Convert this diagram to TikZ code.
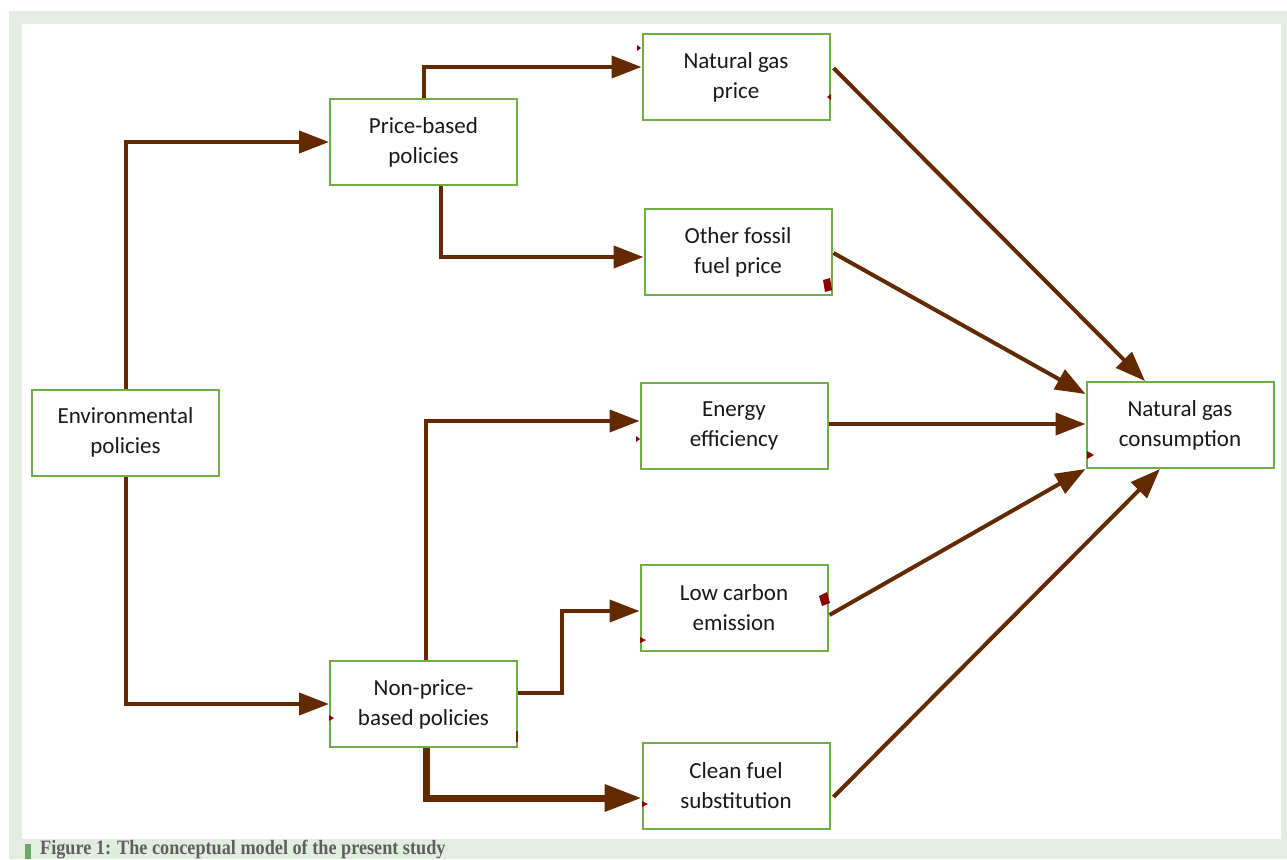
\documentclass[tikz,border=0pt]{standalone}
\usepackage{fontspec}
\setmainfont{Carlito}
\newfontfamily\capfont{Liberation Serif}
\usetikzlibrary{arrows.meta,calc}

\definecolor{framegreen}{HTML}{E2ECE0}
\definecolor{boxgreen}{HTML}{70AD47}
\definecolor{arrowbrown}{HTML}{632A00}
\definecolor{markred}{HTML}{8B0000}
\definecolor{capgray}{HTML}{5E5E5E}
\definecolor{bargreen}{HTML}{6CA865}

\tikzset{
  factor/.style={draw=boxgreen, line width=2pt, fill=white, minimum width=187pt,
    minimum height=86pt, align=center, inner sep=0pt, text=black!90,
    font=\fontsize{23}{30}\selectfont},
  link/.style={draw=arrowbrown, line width=4pt, -{Triangle[length=30pt,width=22pt]}},
  biglink/.style={draw=arrowbrown, line width=7pt, -{Triangle[length=37pt,width=26pt]}},
  tick/.style={fill=markred}
}

\begin{document}
\begin{tikzpicture}[x=1pt, y=-1pt]
    \useasboundingbox (0,0) rectangle (1287,859);
    % frame and caption band
    \fill[framegreen] (9,11) rectangle (1287,859);
    \fill[white] (22,24) rectangle (1281,839);
    \fill[bargreen] (25,844) rectangle (31,859);
    \node[anchor=base west, text=capgray, inner sep=0pt,
      font=\capfont\bfseries\fontsize{18.2}{20}\selectfont] (caption) at (40,854)
      {\scalebox{1}[1.12]{Figure 1: The conceptual model of the present study}};

    % factors
    \node[factor] (env) at (125.5,432.5) {Environmental\\policies};
    \node[factor] (pb)  at (423.5,142)   {Price-based\\policies};
    \node[factor] (npb) at (423.5,704)   {Non-price-\\based policies};
    \node[factor] (ngp) at (736,77)      {Natural gas\\price};
    \node[factor] (ofp) at (738,252)     {Other fossil\\fuel price};
    \node[factor] (ee)  at (734,426)     {Energy\\efficiency};
    \node[factor] (lce) at (734,608)     {Low carbon\\emission};
    \node[factor] (cfs) at (736,786)     {Clean fuel\\substitution};
    \node[factor] (ngc) at (1180,425)    {Natural gas\\consumption};

    % policy branches
    \draw[link] (env.north) |- (pb.west);
    \draw[link] (env.south) |- (npb.west);
    \draw[link] (pb.north) |- ($(ngp.west)+(0,-10)$);
    \draw[link] ($(pb.south)+(17.5,0)$) |- ($(ofp.west)+(0,5)$);
    \draw[link] ($(npb.north)+(2.5,0)$) |- ($(ee.west)+(0,-5)$);
    \draw[link] ($(npb.east)+(0,-11)$) -- (562,693) |- ($(lce.west)+(0,3)$);
    \draw[biglink] ($(npb.south)+(2.5,0)$) |- ($(cfs.west)+(0,12)$);

    % effects on consumption
    \draw[link] ($(ngp.east)+(3,-9)$) -- ($(ngc.north)+(-35,0)$);
    \draw[link] ($(ofp.east)+(1,1)$) -- ($(ngc.west)+(0,-31)$);
    \draw[link] ($(ee.east)+(0,-2)$) -- ($(ngc.west)+(0,-1)$);
    \draw[link] ($(lce.east)+(1,7)$) -- (ngc.south west);
    \draw[link] ($(cfs.east)+(3,11)$) -- ($(ngc.south)+(-20,0)$);

    % stray marks
    \fill[tick] (637,45) -- (641,48) -- (637,51) -- cycle;
    \fill[tick] (831,94) -- (827,97) -- (831,100) -- cycle;
    \fill[tick] (823,280) -- (830,278) -- (832,290) -- (825,292) -- cycle;
    \fill[tick] (636,436) -- (640,439) -- (636,442) -- cycle;
    \fill[tick] (819,596) -- (827,592) -- (830,603) -- (822,606) -- cycle;
    \fill[tick] (640,637) -- (646,640) -- (640,643) -- cycle;
    \fill[tick] (329,715) -- (334,718) -- (329,721) -- cycle;
    \fill[tick] (1087,451) -- (1094,455) -- (1087,459) -- cycle;
    \fill[tick] (642,801) -- (648,804) -- (642,807) -- cycle;
    \fill[arrowbrown] (516,731) rectangle (518,742);
\end{tikzpicture}
\end{document}
